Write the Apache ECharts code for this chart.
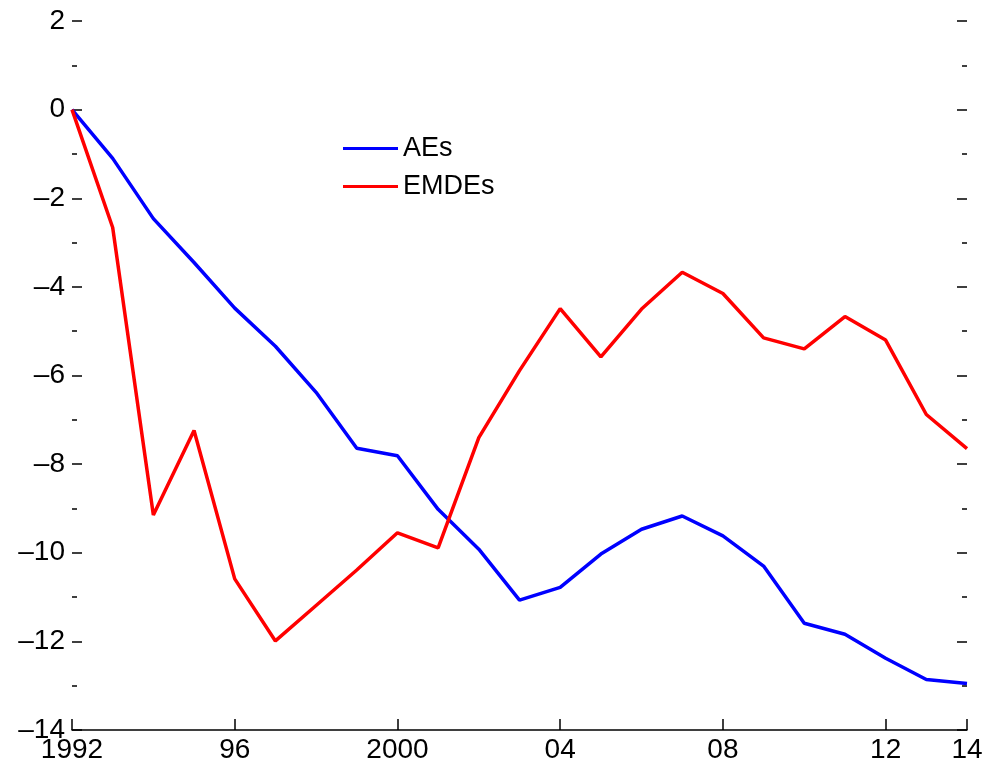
<!DOCTYPE html>
<html>
<head>
<meta charset="utf-8">
<script src="https://cdn.jsdelivr.net/npm/echarts@6/dist/echarts.min.js"></script>
<style>
  html, body { margin: 0; padding: 0; background: #fff; }
  #chart { width: 987px; height: 771px; }
</style>
</head>
<body>
<div id="chart"></div>
<script>
const years = [1992, 1993, 1994, 1995, 1996, 1997, 1998, 1999, 2000, 2001, 2002,
  2003, 2004, 2005, 2006, 2007, 2008, 2009, 2010, 2011, 2012, 2013, 2014];
const aes = [0, -1.1, -2.46, -3.45, -4.48, -5.34, -6.38, -7.64, -7.81, -9.02, -9.92,
  -11.07, -10.78, -10.03, -9.47, -9.17, -9.62, -10.3, -11.59, -11.84, -12.38, -12.86, -12.95];
const emdes = [0, -2.66, -9.15, -7.24, -10.59, -11.99, -11.19, -10.39, -9.55, -9.89, -7.4,
  -5.89, -4.49, -5.58, -4.5, -3.67, -4.15, -5.15, -5.4, -4.67, -5.2, -6.88, -7.65];
const xTicks = [1992, 1996, 2000, 2004, 2008, 2012, 2014];

const font = "Liberation Sans, Arial, sans-serif";
const pairs = (vals) => years.map((y, i) => [y, vals[i]]);

const yAxisBase = {
  type: "value",
  min: -14,
  max: 2,
  interval: 2,
  axisLine: { show: false },
  splitLine: { show: false },
  axisTick: { show: true, inside: true, length: 10, lineStyle: { color: "#000", width: 1.5 } },
  minorTick: { show: true, splitNumber: 2, length: 5, lineStyle: { color: "#000", width: 1.5 } },
};

const option = {
  animation: false,
  backgroundColor: "#fff",
  grid: { left: 72, right: 20, top: 21, bottom: 41 },
  legend: {
    orient: "vertical",
    left: 338,
    top: 130,
    icon: "rect",
    itemWidth: 55,
    itemHeight: 3,
    itemGap: 11,
    textStyle: { fontFamily: font, fontSize: 27, color: "#000", lineHeight: 26 },
    data: ["AEs", "EMDEs"],
  },
  xAxis: {
    type: "value",
    min: 1992,
    max: 2014,
    axisLine: { show: true, onZero: false, lineStyle: { color: "#000", width: 1.5 } },
    splitLine: { show: false },
    axisTick: { show: true, inside: true, length: 11, customValues: xTicks, lineStyle: { color: "#000", width: 1.5 } },
    axisLabel: {
      customValues: xTicks,
      margin: 6,
      fontFamily: font,
      fontSize: 28,
      color: "#000",
      formatter: (v) => (v === 1992 || v === 2000 ? String(v) : String(v % 100).padStart(2, "0")),
    },
  },
  yAxis: [
    Object.assign({}, yAxisBase, {
      position: "left",
      axisLabel: {
        margin: 7,
        fontFamily: font,
        fontSize: 28,
        color: "#000",
        formatter: (v) => String(v).replace("-", "\u2013"),
      },
    }),
    Object.assign({}, yAxisBase, {
      position: "right",
      axisLabel: { show: false },
    }),
  ],
  series: [
    {
      name: "AEs",
      type: "line",
      data: pairs(aes),
      symbol: "none",
      itemStyle: { color: "#0000ff" },
      lineStyle: { color: "#0000ff", width: 3.5 },
    },
    {
      name: "EMDEs",
      type: "line",
      data: pairs(emdes),
      symbol: "none",
      itemStyle: { color: "#ff0000" },
      lineStyle: { color: "#ff0000", width: 3.5 },
    },
  ],
};

const chart = echarts.init(document.getElementById("chart"));
chart.setOption(option);
</script>
</body>
</html>
